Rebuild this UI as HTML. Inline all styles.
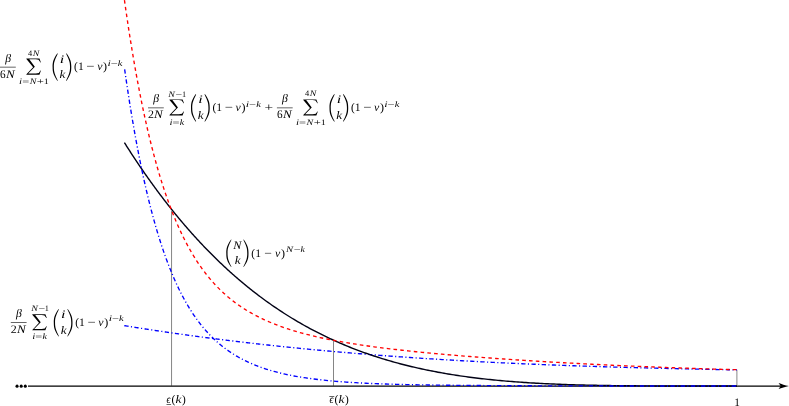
<!DOCTYPE html>
<html><head><meta charset="utf-8"><title>figure</title>
<style>html,body{margin:0;padding:0;background:#fff;overflow:hidden}
svg{display:block;will-change:transform;opacity:0.999} text{text-rendering:geometricPrecision;font-family:"Liberation Serif",serif;white-space:pre}</style></head>
<body><svg width="789" height="406" viewBox="0 0 789 406">
<rect width="789" height="406" fill="#fff"/>
<circle cx="17.05" cy="386.15" r="1.55" fill="#000"/><circle cx="21.2" cy="386.15" r="1.55" fill="#000"/><circle cx="25.3" cy="386.15" r="1.55" fill="#000"/>
<line x1="28" y1="386.1" x2="783" y2="386.1" stroke="#000" stroke-width="1.35"/>
<path d="M788.9 386 C784.8 385.1 781.6 384.1 778.6 382.9 L780.7 386 L778.6 389.1 C781.6 387.9 784.8 386.9 788.9 386Z" fill="#000"/>
<line x1="171.55" y1="211" x2="171.55" y2="386" stroke="#333" stroke-width="0.6"/>
<line x1="333.5" y1="340" x2="333.5" y2="386" stroke="#333" stroke-width="0.6"/>
<line x1="736.9" y1="369.8" x2="736.9" y2="386" stroke="#888" stroke-width="1.0"/>
<path d="M124.30 325.63 L124.80 325.71 L125.30 325.79 L125.80 325.87 L126.30 325.95 L126.80 326.04 L127.30 326.12 L127.80 326.20 L128.30 326.28 L128.80 326.36 L129.30 326.44 L129.80 326.52 L130.30 326.60 L130.80 326.68 L131.30 326.76 L131.80 326.84 L132.30 326.92 L132.80 327.00 L133.30 327.08 L133.80 327.16 L134.30 327.24 L134.80 327.32 L135.30 327.40 L135.80 327.48 L136.30 327.55 L136.80 327.63 L137.30 327.71 L137.80 327.79 L138.30 327.87 L138.80 327.95 L139.30 328.03 L139.80 328.11 L140.30 328.18 L140.80 328.26 L141.30 328.34 L141.80 328.42 L142.30 328.50 L142.80 328.57 L143.30 328.65 L143.80 328.73 L144.30 328.81 L144.80 328.88 L145.30 328.96 L145.80 329.04 L146.30 329.11 L146.80 329.19 L147.30 329.27 L147.80 329.34 L148.30 329.42 L148.80 329.50 L149.30 329.57 L149.80 329.65 L150.30 329.73 L150.80 329.80 L151.30 329.88 L151.80 329.95 L152.30 330.03 L152.80 330.11 L153.30 330.18 L153.80 330.26 L154.30 330.33 L154.80 330.41 L155.30 330.48 L155.80 330.56 L156.30 330.63 L156.80 330.71 L157.30 330.78 L157.80 330.86 L158.30 330.93 L158.80 331.01 L159.30 331.08 L159.80 331.16 L160.30 331.23 L160.80 331.30 L161.30 331.38 L161.80 331.45 L162.30 331.53 L162.80 331.60 L163.30 331.67 L163.80 331.75 L164.30 331.82 L164.80 331.89 L165.30 331.97 L165.80 332.04 L166.30 332.11 L166.80 332.19 L167.30 332.26 L167.80 332.33 L168.30 332.40 L168.80 332.48 L169.30 332.55 L169.80 332.62 L170.30 332.69 L170.80 332.77 L171.30 332.84 L171.80 332.91 L172.30 332.98 L172.80 333.05 L173.30 333.12 L173.80 333.20 L174.30 333.27 L174.80 333.34 L175.30 333.41 L175.80 333.48 L176.30 333.55 L176.80 333.62 L177.30 333.69 L177.80 333.77 L178.30 333.84 L178.80 333.91 L179.30 333.98 L179.80 334.05 L180.30 334.12 L180.80 334.19 L181.30 334.26 L181.80 334.33 L182.30 334.40 L182.80 334.47 L183.30 334.54 L183.80 334.61 L184.30 334.68 L184.80 334.75 L185.30 334.82 L185.80 334.89 L186.30 334.95 L186.80 335.02 L187.30 335.09 L187.80 335.16 L188.30 335.23 L188.80 335.30 L189.30 335.37 L189.80 335.44 L190.30 335.50 L190.80 335.57 L191.30 335.64 L191.80 335.71 L192.30 335.78 L192.80 335.85 L193.30 335.91 L193.80 335.98 L194.30 336.05 L194.80 336.12 L195.30 336.18 L195.80 336.25 L196.30 336.32 L196.80 336.39 L197.30 336.45 L197.80 336.52 L198.30 336.59 L198.80 336.65 L199.30 336.72 L199.80 336.79 L200.30 336.85 L200.80 336.92 L201.30 336.99 L201.80 337.05 L202.30 337.12 L202.80 337.18 L203.30 337.25 L203.80 337.32 L204.30 337.38 L204.80 337.45 L205.30 337.51 L205.80 337.58 L206.30 337.64 L206.80 337.71 L207.30 337.78 L207.80 337.84 L208.30 337.91 L208.80 337.97 L209.30 338.04 L209.80 338.10 L210.30 338.17 L210.80 338.23 L211.30 338.29 L211.80 338.36 L212.30 338.42 L212.80 338.49 L213.30 338.55 L213.80 338.62 L214.30 338.68 L214.80 338.74 L215.30 338.81 L215.80 338.87 L216.30 338.93 L216.80 339.00 L217.30 339.06 L217.80 339.13 L218.30 339.19 L218.80 339.25 L219.30 339.31 L219.80 339.38 L220.30 339.44 L220.80 339.50 L221.30 339.57 L221.80 339.63 L222.30 339.69 L222.80 339.75 L223.30 339.82 L223.80 339.88 L224.30 339.94 L224.80 340.00 L225.30 340.06 L225.80 340.13 L226.30 340.19 L226.80 340.25 L227.30 340.31 L227.80 340.37 L228.30 340.43 L228.80 340.50 L229.30 340.56 L229.80 340.62 L230.30 340.68 L230.80 340.74 L231.30 340.80 L231.80 340.86 L232.30 340.92 L232.80 340.98 L233.30 341.04 L233.80 341.11 L234.30 341.17 L234.80 341.23 L235.30 341.29 L235.80 341.35 L236.30 341.41 L236.80 341.47 L237.30 341.53 L237.80 341.59 L238.30 341.65 L238.80 341.71 L239.30 341.77 L239.80 341.82 L240.30 341.88 L240.80 341.94 L241.30 342.00 L241.80 342.06 L242.30 342.12 L242.80 342.18 L243.30 342.24 L243.80 342.30 L244.30 342.36 L244.80 342.41 L245.30 342.47 L245.80 342.53 L246.30 342.59 L246.80 342.65 L247.30 342.71 L247.80 342.76 L248.30 342.82 L248.80 342.88 L249.30 342.94 L249.80 343.00 L250.30 343.05 L250.80 343.11 L251.30 343.17 L251.80 343.23 L252.30 343.28 L252.80 343.34 L253.30 343.40 L253.80 343.45 L254.30 343.51 L254.80 343.57 L255.30 343.63 L255.80 343.68 L256.30 343.74 L256.80 343.80 L257.30 343.85 L257.80 343.91 L258.30 343.96 L258.80 344.02 L259.30 344.08 L259.80 344.13 L260.00 344.16 L262.00 344.38 L264.00 344.60 L266.00 344.82 L268.00 345.04 L270.00 345.26 L272.00 345.47 L274.00 345.69 L276.00 345.90 L278.00 346.12 L280.00 346.33 L282.00 346.54 L284.00 346.75 L286.00 346.95 L288.00 347.16 L290.00 347.37 L292.00 347.57 L294.00 347.77 L296.00 347.97 L298.00 348.17 L300.00 348.37 L302.00 348.57 L304.00 348.76 L306.00 348.96 L308.00 349.15 L310.00 349.35 L312.00 349.54 L314.00 349.73 L316.00 349.92 L318.00 350.10 L320.00 350.29 L322.00 350.47 L324.00 350.66 L326.00 350.84 L328.00 351.02 L330.00 351.20 L332.00 351.38 L334.00 351.56 L336.00 351.74 L338.00 351.91 L340.00 352.09 L342.00 352.26 L344.00 352.43 L346.00 352.60 L348.00 352.77 L350.00 352.94 L352.00 353.11 L354.00 353.28 L356.00 353.44 L358.00 353.61 L360.00 353.77 L362.00 353.93 L364.00 354.09 L366.00 354.25 L368.00 354.41 L370.00 354.57 L372.00 354.73 L374.00 354.88 L376.00 355.04 L378.00 355.19 L380.00 355.34 L382.00 355.49 L384.00 355.64 L386.00 355.79 L388.00 355.94 L390.00 356.09 L392.00 356.23 L394.00 356.38 L396.00 356.52 L398.00 356.66 L400.00 356.81 L402.00 356.95 L404.00 357.09 L406.00 357.23 L408.00 357.36 L410.00 357.50 L412.00 357.64 L414.00 357.77 L416.00 357.91 L418.00 358.04 L420.00 358.17 L422.00 358.30 L424.00 358.43 L426.00 358.56 L428.00 358.69 L430.00 358.82 L432.00 358.94 L434.00 359.07 L436.00 359.19 L438.00 359.31 L440.00 359.44 L442.00 359.56 L444.00 359.68 L446.00 359.80 L448.00 359.92 L450.00 360.04 L452.00 360.15 L454.00 360.27 L456.00 360.38 L458.00 360.50 L460.00 360.61 L462.00 360.72 L464.00 360.84 L466.00 360.95 L468.00 361.06 L470.00 361.17 L472.00 361.27 L474.00 361.38 L476.00 361.49 L478.00 361.59 L480.00 361.70 L482.00 361.80 L484.00 361.91 L486.00 362.01 L488.00 362.11 L490.00 362.21 L492.00 362.31 L494.00 362.41 L496.00 362.51 L498.00 362.60 L500.00 362.70 L502.00 362.80 L504.00 362.89 L506.00 362.99 L508.00 363.08 L510.00 363.17 L512.00 363.27 L514.00 363.36 L516.00 363.45 L518.00 363.54 L520.00 363.63 L522.00 363.72 L524.00 363.80 L526.00 363.89 L528.00 363.98 L530.00 364.06 L532.00 364.15 L534.00 364.23 L536.00 364.31 L538.00 364.40 L540.00 364.48 L542.00 364.56 L544.00 364.64 L546.00 364.72 L548.00 364.80 L550.00 364.88 L552.00 364.96 L554.00 365.03 L556.00 365.11 L558.00 365.19 L560.00 365.26 L562.00 365.34 L564.00 365.41 L566.00 365.48 L568.00 365.56 L570.00 365.63 L572.00 365.70 L574.00 365.77 L576.00 365.84 L578.00 365.91 L580.00 365.98 L582.00 366.05 L584.00 366.12 L586.00 366.18 L588.00 366.25 L590.00 366.32 L592.00 366.38 L594.00 366.45 L596.00 366.51 L598.00 366.57 L600.00 366.64 L602.00 366.70 L604.00 366.76 L606.00 366.82 L608.00 366.89 L610.00 366.95 L612.00 367.01 L614.00 367.07 L616.00 367.12 L618.00 367.18 L620.00 367.24 L622.00 367.30 L624.00 367.36 L626.00 367.41 L628.00 367.47 L630.00 367.52 L632.00 367.58 L634.00 367.63 L636.00 367.69 L638.00 367.74 L640.00 367.79 L642.00 367.85 L644.00 367.90 L646.00 367.95 L648.00 368.00 L650.00 368.05 L652.00 368.10 L654.00 368.15 L656.00 368.20 L658.00 368.25 L660.00 368.30 L662.00 368.35 L664.00 368.40 L666.00 368.44 L668.00 368.49 L670.00 368.54 L672.00 368.58 L674.00 368.63 L676.00 368.67 L678.00 368.72 L680.00 368.76 L682.00 368.81 L684.00 368.85 L686.00 368.90 L688.00 368.94 L690.00 368.98 L692.00 369.03 L694.00 369.07 L696.00 369.11 L698.00 369.15 L700.00 369.19 L702.00 369.23 L704.00 369.27 L706.00 369.31 L708.00 369.35 L710.00 369.39 L712.00 369.43 L714.00 369.47 L716.00 369.51 L718.00 369.55 L720.00 369.59 L722.00 369.63 L724.00 369.66 L726.00 369.70 L728.00 369.74 L730.00 369.78 L732.00 369.81 L734.00 369.85 L736.00 369.89 L737.00 369.90" fill="none" stroke="#0000ff" stroke-width="1.35" stroke-dasharray="4.3 2.41 1.11 2.41"/>
<path d="M124.40 142.60 L124.90 143.39 L125.40 144.19 L125.90 144.98 L126.40 145.76 L126.90 146.55 L127.40 147.33 L127.90 148.12 L128.40 148.90 L128.90 149.67 L129.40 150.45 L129.90 151.22 L130.40 152.00 L130.90 152.77 L131.40 153.54 L131.90 154.30 L132.40 155.07 L132.90 155.83 L133.40 156.59 L133.90 157.35 L134.40 158.11 L134.90 158.86 L135.40 159.62 L135.90 160.37 L136.40 161.12 L136.90 161.87 L137.40 162.61 L137.90 163.36 L138.40 164.10 L138.90 164.84 L139.40 165.58 L139.90 166.31 L140.40 167.05 L140.90 167.78 L141.40 168.51 L141.90 169.24 L142.40 169.97 L142.90 170.70 L143.40 171.42 L143.90 172.14 L144.40 172.86 L144.90 173.58 L145.40 174.30 L145.90 175.01 L146.40 175.73 L146.90 176.44 L147.40 177.15 L147.90 177.85 L148.40 178.56 L148.90 179.26 L149.40 179.97 L149.90 180.67 L150.40 181.36 L150.90 182.06 L151.40 182.76 L151.90 183.45 L152.40 184.14 L152.90 184.83 L153.40 185.52 L153.90 186.20 L154.40 186.89 L154.90 187.57 L155.40 188.25 L155.90 188.93 L156.40 189.61 L156.90 190.29 L157.40 190.96 L157.90 191.63 L158.40 192.30 L158.90 192.97 L159.40 193.64 L159.90 194.30 L160.40 194.97 L160.90 195.63 L161.40 196.29 L161.90 196.95 L162.40 197.60 L162.90 198.26 L163.40 198.91 L163.90 199.56 L164.40 200.21 L164.90 200.86 L165.40 201.51 L165.90 202.15 L166.40 202.79 L166.90 203.44 L167.40 204.07 L167.90 204.71 L168.40 205.35 L168.90 205.98 L169.40 206.62 L169.90 207.25 L170.40 207.88 L170.90 208.51 L171.40 209.13 L171.90 209.76 L172.40 210.38 L172.90 211.00 L173.40 211.62 L173.90 212.24 L174.40 212.85 L174.90 213.47 L175.40 214.08 L175.90 214.69 L176.40 215.30 L176.90 215.91 L177.40 216.52 L177.90 217.12 L178.40 217.73 L178.90 218.33 L179.40 218.93 L179.90 219.53 L180.40 220.12 L180.90 220.72 L181.40 221.31 L181.90 221.90 L182.40 222.49 L182.90 223.08 L183.40 223.67 L183.90 224.26 L184.40 224.84 L184.90 225.42 L185.40 226.00 L185.90 226.58 L186.40 227.16 L186.90 227.74 L187.40 228.31 L187.90 228.88 L188.40 229.46 L188.90 230.03 L189.40 230.59 L189.90 231.16 L190.40 231.73 L190.90 232.29 L191.40 232.85 L191.90 233.41 L192.40 233.97 L192.90 234.53 L193.40 235.09 L193.90 235.64 L194.40 236.19 L194.90 236.74 L195.40 237.29 L195.90 237.84 L196.40 238.39 L196.90 238.94 L197.40 239.48 L197.90 240.02 L198.40 240.56 L198.90 241.10 L199.40 241.64 L199.90 242.18 L200.40 242.71 L200.90 243.24 L201.40 243.78 L201.90 244.31 L202.40 244.83 L202.90 245.36 L203.40 245.89 L203.90 246.41 L204.40 246.94 L204.90 247.46 L205.40 247.98 L205.90 248.50 L206.40 249.01 L206.90 249.53 L207.40 250.04 L207.90 250.55 L208.40 251.07 L208.90 251.58 L209.40 252.08 L209.90 252.59 L210.40 253.10 L210.90 253.60 L211.40 254.10 L211.90 254.60 L212.40 255.10 L212.90 255.60 L213.40 256.10 L213.90 256.59 L214.40 257.09 L214.90 257.58 L215.40 258.07 L215.90 258.56 L216.40 259.05 L216.90 259.54 L217.40 260.02 L217.90 260.51 L218.40 260.99 L218.90 261.47 L219.40 261.95 L219.90 262.43 L220.40 262.91 L220.90 263.38 L221.40 263.86 L221.90 264.33 L222.40 264.80 L222.90 265.27 L223.40 265.74 L223.90 266.21 L224.40 266.68 L224.90 267.14 L225.40 267.60 L225.90 268.07 L226.40 268.53 L226.90 268.99 L227.40 269.45 L227.90 269.90 L228.40 270.36 L228.90 270.81 L229.40 271.26 L229.90 271.72 L230.40 272.17 L230.90 272.61 L231.40 273.06 L231.90 273.51 L232.40 273.95 L232.90 274.40 L233.40 274.84 L233.90 275.28 L234.40 275.72 L234.90 276.16 L235.40 276.59 L235.90 277.03 L236.40 277.46 L236.90 277.90 L237.40 278.33 L237.90 278.76 L238.40 279.19 L238.90 279.62 L239.40 280.04 L239.90 280.47 L240.40 280.89 L240.90 281.31 L241.40 281.74 L241.90 282.16 L242.40 282.57 L242.90 282.99 L243.40 283.41 L243.90 283.82 L244.40 284.24 L244.90 284.65 L245.40 285.06 L245.90 285.47 L246.40 285.88 L246.90 286.29 L247.40 286.69 L247.90 287.10 L248.40 287.50 L248.90 287.90 L249.40 288.31 L249.90 288.71 L250.40 289.11 L250.90 289.50 L251.40 289.90 L251.90 290.29 L252.40 290.69 L252.90 291.08 L253.40 291.47 L253.90 291.86 L254.40 292.25 L254.90 292.64 L255.40 293.03 L255.90 293.41 L256.40 293.80 L256.90 294.18 L257.40 294.56 L257.90 294.94 L258.40 295.32 L258.90 295.70 L259.40 296.08 L259.90 296.45 L260.00 296.53 L262.00 298.02 L264.00 299.49 L266.00 300.95 L268.00 302.38 L270.00 303.80 L272.00 305.20 L274.00 306.58 L276.00 307.94 L278.00 309.29 L280.00 310.62 L282.00 311.93 L284.00 313.22 L286.00 314.50 L288.00 315.76 L290.00 317.00 L292.00 318.23 L294.00 319.44 L296.00 320.63 L298.00 321.81 L300.00 322.97 L302.00 324.12 L304.00 325.25 L306.00 326.36 L308.00 327.46 L310.00 328.55 L312.00 329.61 L314.00 330.67 L316.00 331.71 L318.00 332.73 L320.00 333.74 L322.00 334.74 L324.00 335.72 L326.00 336.68 L328.00 337.64 L330.00 338.58 L332.00 339.50 L334.00 340.41 L336.00 341.31 L338.00 342.20 L340.00 343.07 L342.00 343.93 L344.00 344.77 L346.00 345.61 L348.00 346.43 L350.00 347.23 L352.00 348.03 L354.00 348.81 L356.00 349.58 L358.00 350.34 L360.00 351.09 L362.00 351.82 L364.00 352.55 L366.00 353.26 L368.00 353.96 L370.00 354.65 L372.00 355.33 L374.00 355.99 L376.00 356.65 L378.00 357.29 L380.00 357.93 L382.00 358.55 L384.00 359.16 L386.00 359.77 L388.00 360.36 L390.00 360.94 L392.00 361.52 L394.00 362.08 L396.00 362.63 L398.00 363.17 L400.00 363.71 L402.00 364.23 L404.00 364.75 L406.00 365.25 L408.00 365.75 L410.00 366.24 L412.00 366.72 L414.00 367.19 L416.00 367.65 L418.00 368.10 L420.00 368.55 L422.00 368.98 L424.00 369.41 L426.00 369.83 L428.00 370.24 L430.00 370.65 L432.00 371.04 L434.00 371.43 L436.00 371.81 L438.00 372.19 L440.00 372.55 L442.00 372.91 L444.00 373.26 L446.00 373.61 L448.00 373.94 L450.00 374.27 L452.00 374.60 L454.00 374.91 L456.00 375.22 L458.00 375.53 L460.00 375.83 L462.00 376.12 L464.00 376.40 L466.00 376.68 L468.00 376.95 L470.00 377.22 L472.00 377.48 L474.00 377.73 L476.00 377.98 L478.00 378.22 L480.00 378.46 L482.00 378.69 L484.00 378.92 L486.00 379.14 L488.00 379.36 L490.00 379.57 L492.00 379.77 L494.00 379.97 L496.00 380.17 L498.00 380.36 L500.00 380.55 L502.00 380.73 L504.00 380.91 L506.00 381.08 L508.00 381.25 L510.00 381.41 L512.00 381.57 L514.00 381.73 L516.00 381.88 L518.00 382.02 L520.00 382.17 L522.00 382.31 L524.00 382.44 L526.00 382.57 L528.00 382.70 L530.00 382.83 L532.00 382.95 L534.00 383.07 L536.00 383.18 L538.00 383.29 L540.00 383.40 L542.00 383.50 L544.00 383.60 L546.00 383.70 L548.00 383.79 L550.00 383.89 L552.00 383.98 L554.00 384.06 L556.00 384.15 L558.00 384.23 L560.00 384.30 L562.00 384.38 L564.00 384.45 L566.00 384.52 L568.00 384.59 L570.00 384.66 L572.00 384.72 L574.00 384.78 L576.00 384.84 L578.00 384.90 L580.00 384.95 L582.00 385.00 L584.00 385.05 L586.00 385.10 L588.00 385.15 L590.00 385.19 L592.00 385.24 L594.00 385.28 L596.00 385.32 L598.00 385.35 L600.00 385.39 L602.00 385.43 L604.00 385.46 L606.00 385.49 L608.00 385.52 L610.00 385.55 L612.00 385.58 L614.00 385.60 L616.00 385.63 L618.00 385.65 L620.00 385.68 L622.00 385.70 L624.00 385.72 L626.00 385.74 L628.00 385.76 L630.00 385.77 L632.00 385.79 L634.00 385.81 L636.00 385.82 L638.00 385.83 L640.00 385.85 L642.00 385.86 L644.00 385.87 L646.00 385.88 L648.00 385.89 L650.00 385.90 L652.00 385.91 L654.00 385.92 L656.00 385.93 L658.00 385.93 L660.00 385.94 L662.00 385.95 L664.00 385.95 L666.00 385.96 L668.00 385.96 L670.00 385.97 L672.00 385.97 L674.00 385.97 L676.00 385.98 L678.00 385.98 L680.00 385.98 L682.00 385.98 L684.00 385.99 L686.00 385.99 L688.00 385.99 L690.00 385.99 L692.00 385.99 L694.00 385.99 L696.00 386.00 L698.00 386.00 L700.00 386.00 L702.00 386.00 L704.00 386.00 L706.00 386.00 L708.00 386.00 L710.00 386.00 L712.00 386.00 L714.00 386.00 L716.00 386.00 L718.00 386.00 L720.00 386.00 L722.00 386.00 L724.00 386.00 L726.00 386.00 L728.00 386.00 L730.00 386.00 L732.00 386.00 L734.00 386.00 L736.00 386.00 L737.00 386.00" fill="none" stroke="#000014" stroke-width="1.4"/>
<path d="M124.65 69.36 L125.15 72.88 L125.65 76.35 L126.15 79.79 L126.65 83.19 L127.15 86.54 L127.65 89.86 L128.15 93.15 L128.65 96.39 L129.15 99.60 L129.65 102.77 L130.15 105.90 L130.65 109.00 L131.15 112.06 L131.65 115.09 L132.15 118.08 L132.65 121.04 L133.15 123.97 L133.65 126.86 L134.15 129.72 L134.65 132.54 L135.15 135.34 L135.65 138.10 L136.15 140.83 L136.65 143.53 L137.15 146.19 L137.65 148.83 L138.15 151.44 L138.65 154.02 L139.15 156.57 L139.65 159.09 L140.15 161.58 L140.65 164.04 L141.15 166.47 L141.65 168.88 L142.15 171.26 L142.65 173.61 L143.15 175.93 L143.65 178.23 L144.15 180.51 L144.65 182.75 L145.15 184.97 L145.65 187.17 L146.15 189.34 L146.65 191.48 L147.15 193.61 L147.65 195.70 L148.15 197.78 L148.65 199.83 L149.15 201.85 L149.65 203.86 L150.15 205.84 L150.65 207.80 L151.15 209.73 L151.65 211.65 L152.15 213.54 L152.65 215.41 L153.15 217.26 L153.65 219.09 L154.15 220.89 L154.65 222.68 L155.15 224.45 L155.65 226.19 L156.15 227.92 L156.65 229.63 L157.15 231.32 L157.65 232.99 L158.15 234.64 L158.65 236.27 L159.15 237.88 L159.65 239.48 L160.15 241.05 L160.65 242.61 L161.15 244.15 L161.65 245.68 L162.15 247.18 L162.65 248.67 L163.15 250.15 L163.65 251.60 L164.15 253.04 L164.65 254.47 L165.15 255.88 L165.65 257.27 L166.15 258.64 L166.65 260.00 L167.15 261.35 L167.65 262.68 L168.15 263.99 L168.65 265.29 L169.15 266.58 L169.65 267.85 L170.15 269.11 L170.65 270.35 L171.15 271.58 L171.65 272.80 L172.15 274.00 L172.65 275.19 L173.15 276.36 L173.65 277.52 L174.15 278.67 L174.65 279.81 L175.15 280.93 L175.65 282.04 L176.15 283.14 L176.65 284.23 L177.15 285.30 L177.65 286.36 L178.15 287.41 L178.65 288.45 L179.15 289.48 L179.65 290.49 L180.15 291.50 L180.65 292.49 L181.15 293.47 L181.65 294.44 L182.15 295.40 L182.65 296.35 L183.15 297.29 L183.65 298.22 L184.15 299.14 L184.65 300.04 L185.15 300.94 L185.65 301.83 L186.15 302.71 L186.65 303.58 L187.15 304.43 L187.65 305.28 L188.15 306.12 L188.65 306.95 L189.15 307.78 L189.65 308.59 L190.15 309.39 L190.65 310.19 L191.15 310.97 L191.65 311.75 L192.15 312.52 L192.65 313.28 L193.15 314.03 L193.65 314.77 L194.15 315.51 L194.65 316.24 L195.15 316.96 L195.65 317.67 L196.15 318.37 L196.65 319.07 L197.15 319.76 L197.65 320.44 L198.15 321.11 L198.65 321.78 L199.15 322.44 L199.65 323.09 L200.15 323.73 L200.65 324.37 L201.15 325.00 L201.65 325.62 L202.15 326.24 L202.65 326.85 L203.15 327.45 L203.65 328.05 L204.15 328.64 L204.65 329.23 L205.15 329.80 L205.65 330.38 L206.15 330.94 L206.65 331.50 L207.15 332.05 L207.65 332.60 L208.15 333.14 L208.65 333.68 L209.15 334.21 L209.65 334.73 L210.15 335.25 L210.65 335.76 L211.15 336.27 L211.65 336.77 L212.15 337.27 L212.65 337.76 L213.15 338.25 L213.65 338.73 L214.15 339.20 L214.65 339.67 L215.15 340.14 L215.65 340.60 L216.15 341.05 L216.65 341.50 L217.15 341.95 L217.65 342.39 L218.15 342.83 L218.65 343.26 L219.15 343.69 L219.65 344.11 L220.15 344.53 L220.65 344.94 L221.15 345.35 L221.65 345.76 L222.15 346.16 L222.65 346.55 L223.15 346.95 L223.65 347.33 L224.15 347.72 L224.65 348.10 L225.15 348.47 L225.65 348.85 L226.15 349.21 L226.65 349.58 L227.15 349.94 L227.65 350.29 L228.15 350.65 L228.65 351.00 L229.15 351.34 L229.65 351.68 L230.15 352.02 L230.65 352.36 L231.15 352.69 L231.65 353.02 L232.15 353.34 L232.65 353.66 L233.15 353.98 L233.65 354.29 L234.15 354.60 L234.65 354.91 L235.15 355.22 L235.65 355.52 L236.15 355.82 L236.65 356.11 L237.15 356.40 L237.65 356.69 L238.15 356.98 L238.65 357.26 L239.15 357.54 L239.65 357.82 L240.15 358.09 L240.65 358.36 L241.15 358.63 L241.65 358.90 L242.15 359.16 L242.65 359.42 L243.15 359.68 L243.65 359.94 L244.15 360.19 L244.65 360.44 L245.15 360.69 L245.65 360.93 L246.15 361.17 L246.65 361.41 L247.15 361.65 L247.65 361.89 L248.15 362.12 L248.65 362.35 L249.15 362.58 L249.65 362.80 L250.15 363.02 L250.65 363.25 L251.15 363.46 L251.65 363.68 L252.15 363.90 L252.65 364.11 L253.15 364.32 L253.65 364.53 L254.15 364.73 L254.65 364.93 L255.15 365.14 L255.65 365.34 L256.15 365.53 L256.65 365.73 L257.15 365.92 L257.65 366.11 L258.15 366.30 L258.65 366.49 L259.15 366.68 L259.65 366.86 L260.00 366.99 L262.00 367.70 L264.00 368.39 L266.00 369.04 L268.00 369.68 L270.00 370.28 L272.00 370.87 L274.00 371.43 L276.00 371.97 L278.00 372.48 L280.00 372.98 L282.00 373.46 L284.00 373.92 L286.00 374.36 L288.00 374.79 L290.00 375.20 L292.00 375.59 L294.00 375.97 L296.00 376.33 L298.00 376.68 L300.00 377.02 L302.00 377.34 L304.00 377.65 L306.00 377.95 L308.00 378.24 L310.00 378.52 L312.00 378.79 L314.00 379.04 L316.00 379.29 L318.00 379.53 L320.00 379.76 L322.00 379.98 L324.00 380.19 L326.00 380.40 L328.00 380.60 L330.00 380.79 L332.00 380.97 L334.00 381.14 L336.00 381.31 L338.00 381.48 L340.00 381.63 L342.00 381.78 L344.00 381.93 L346.00 382.07 L348.00 382.21 L350.00 382.34 L352.00 382.46 L354.00 382.58 L356.00 382.70 L358.00 382.81 L360.00 382.92 L362.00 383.02 L364.00 383.12 L366.00 383.22 L368.00 383.31 L370.00 383.40 L372.00 383.49 L374.00 383.57 L376.00 383.65 L378.00 383.73 L380.00 383.80 L382.00 383.88 L384.00 383.95 L386.00 384.01 L388.00 384.08 L390.00 384.14 L392.00 384.20 L394.00 384.26 L396.00 384.31 L398.00 384.37 L400.00 384.42 L402.00 384.47 L404.00 384.52 L406.00 384.56 L408.00 384.61 L410.00 384.65 L412.00 384.69 L414.00 384.73 L416.00 384.77 L418.00 384.81 L420.00 384.85 L422.00 384.88 L424.00 384.92 L426.00 384.95 L428.00 384.98 L430.00 385.01 L432.00 385.04 L434.00 385.07 L436.00 385.10 L438.00 385.12 L440.00 385.15 L442.00 385.18 L444.00 385.20 L446.00 385.22 L448.00 385.25 L450.00 385.27 L452.00 385.29 L454.00 385.31 L456.00 385.33 L458.00 385.35 L460.00 385.37 L462.00 385.39 L464.00 385.40 L466.00 385.42 L468.00 385.44 L470.00 385.45 L472.00 385.47 L474.00 385.48 L476.00 385.50 L478.00 385.51 L480.00 385.53 L482.00 385.54 L484.00 385.55 L486.00 385.57 L488.00 385.58 L490.00 385.59 L492.00 385.60 L494.00 385.61 L496.00 385.63 L498.00 385.64 L500.00 385.65 L502.00 385.66 L504.00 385.67 L506.00 385.68 L508.00 385.69 L510.00 385.70 L512.00 385.70 L514.00 385.71 L516.00 385.72 L518.00 385.73 L520.00 385.74 L522.00 385.75 L524.00 385.75 L526.00 385.76 L528.00 385.77 L530.00 385.78 L532.00 385.78 L534.00 385.79 L536.00 385.80 L538.00 385.80 L540.00 385.81 L542.00 385.81 L544.00 385.82 L546.00 385.83 L548.00 385.83 L550.00 385.84 L552.00 385.84 L554.00 385.85 L556.00 385.85 L558.00 385.86 L560.00 385.86 L562.00 385.87 L564.00 385.87 L566.00 385.88 L568.00 385.88 L570.00 385.89 L572.00 385.89 L574.00 385.89 L576.00 385.90 L578.00 385.90 L580.00 385.90 L582.00 385.91 L584.00 385.91 L586.00 385.92 L588.00 385.92 L590.00 385.92 L592.00 385.93 L594.00 385.93 L596.00 385.93 L598.00 385.93 L600.00 385.94 L602.00 385.94 L604.00 385.94 L606.00 385.95 L608.00 385.95 L610.00 385.95 L612.00 385.95 L614.00 385.95 L616.00 385.96 L618.00 385.96 L620.00 385.96 L622.00 385.96 L624.00 385.96 L626.00 385.97 L628.00 385.97 L630.00 385.97 L632.00 385.97 L634.00 385.97 L636.00 385.97 L638.00 385.98 L640.00 385.98 L642.00 385.98 L644.00 385.98 L646.00 385.98 L648.00 385.98 L650.00 385.98 L652.00 385.99 L654.00 385.99 L656.00 385.99 L658.00 385.99 L660.00 385.99 L662.00 385.99 L664.00 385.99 L666.00 385.99 L668.00 385.99 L670.00 385.99 L672.00 385.99 L674.00 385.99 L676.00 385.99 L678.00 385.99 L680.00 386.00 L682.00 386.00 L684.00 386.00 L686.00 386.00 L688.00 386.00 L690.00 386.00 L692.00 386.00 L694.00 386.00 L696.00 386.00 L698.00 386.00 L700.00 386.00 L702.00 386.00 L704.00 386.00 L706.00 386.00 L708.00 386.00 L710.00 386.00 L712.00 386.00 L714.00 386.00 L716.00 386.00 L718.00 386.00 L720.00 386.00 L722.00 386.00 L724.00 386.00 L726.00 386.00 L728.00 386.00 L730.00 386.00 L732.00 386.00 L734.00 386.00 L736.00 386.00 L737.00 386.00" fill="none" stroke="#0000ff" stroke-width="1.35" stroke-dasharray="4.3 2.4 1.1 2.4"/>
<path d="M121.00 -25.37 L121.50 -21.55 L122.00 -17.77 L122.50 -14.03 L123.00 -10.33 L123.50 -6.68 L124.00 -3.06 L124.50 0.52 L125.00 4.06 L125.50 7.56 L126.00 11.03 L126.50 14.45 L127.00 17.84 L127.50 21.19 L128.00 24.50 L128.50 27.78 L129.00 31.03 L129.50 34.23 L130.00 37.41 L130.50 40.55 L131.00 43.65 L131.50 46.72 L132.00 49.76 L132.50 52.76 L133.00 55.73 L133.50 58.67 L134.00 61.58 L134.50 64.46 L135.00 67.30 L135.50 70.12 L136.00 72.90 L136.50 75.65 L137.00 78.38 L137.50 81.07 L138.00 83.74 L138.50 86.37 L139.00 88.98 L139.50 91.56 L140.00 94.11 L140.50 96.63 L141.00 99.13 L141.50 101.60 L142.00 104.04 L142.50 106.46 L143.00 108.85 L143.50 111.21 L144.00 113.55 L144.50 115.87 L145.00 118.15 L145.50 120.42 L146.00 122.66 L146.50 124.87 L147.00 127.07 L147.50 129.23 L148.00 131.38 L148.50 133.50 L149.00 135.60 L149.50 137.68 L150.00 139.73 L150.50 141.76 L151.00 143.77 L151.50 145.76 L152.00 147.73 L152.50 149.68 L153.00 151.60 L153.50 153.51 L154.00 155.39 L154.50 157.25 L155.00 159.10 L155.50 160.92 L156.00 162.73 L156.50 164.52 L157.00 166.28 L157.50 168.03 L158.00 169.76 L158.50 171.47 L159.00 173.16 L159.50 174.84 L160.00 176.50 L160.50 178.14 L161.00 179.76 L161.50 181.36 L162.00 182.95 L162.50 184.52 L163.00 186.08 L163.50 187.61 L164.00 189.13 L164.50 190.64 L165.00 192.13 L165.50 193.60 L166.00 195.06 L166.50 196.51 L167.00 197.93 L167.50 199.35 L168.00 200.74 L168.50 202.13 L169.00 203.50 L169.50 204.85 L170.00 206.19 L170.50 207.52 L171.00 208.83 L171.50 210.13 L172.00 211.41 L172.50 212.68 L173.00 213.94 L173.50 215.19 L174.00 216.42 L174.50 217.64 L175.00 218.84 L175.50 220.04 L176.00 221.22 L176.50 222.39 L177.00 223.54 L177.50 224.69 L178.00 225.82 L178.50 226.94 L179.00 228.05 L179.50 229.15 L180.00 230.24 L180.50 231.32 L181.00 232.38 L181.50 233.44 L182.00 234.48 L182.50 235.51 L183.00 236.53 L183.50 237.54 L184.00 238.54 L184.50 239.54 L185.00 240.52 L185.50 241.49 L186.00 242.45 L186.50 243.40 L187.00 244.34 L187.50 245.27 L188.00 246.19 L188.50 247.11 L189.00 248.01 L189.50 248.90 L190.00 249.79 L190.50 250.66 L191.00 251.53 L191.50 252.39 L192.00 253.24 L192.50 254.08 L193.00 254.92 L193.50 255.74 L194.00 256.56 L194.50 257.37 L195.00 258.17 L195.50 258.96 L196.00 259.74 L196.50 260.52 L197.00 261.29 L197.50 262.05 L198.00 262.80 L198.50 263.55 L199.00 264.29 L199.50 265.02 L200.00 265.74 L200.50 266.46 L201.00 267.17 L201.50 267.87 L202.00 268.57 L202.50 269.26 L203.00 269.94 L203.50 270.62 L204.00 271.29 L204.50 271.95 L205.00 272.61 L205.50 273.26 L206.00 273.90 L206.50 274.54 L207.00 275.17 L207.50 275.79 L208.00 276.41 L208.50 277.03 L209.00 277.63 L209.50 278.23 L210.00 278.83 L210.50 279.42 L211.00 280.00 L211.50 280.58 L212.00 281.16 L212.50 281.72 L213.00 282.29 L213.50 282.84 L214.00 283.39 L214.50 283.94 L215.00 284.48 L215.50 285.02 L216.00 285.55 L216.50 286.07 L217.00 286.60 L217.50 287.11 L218.00 287.62 L218.50 288.13 L219.00 288.63 L219.50 289.13 L220.00 289.62 L220.50 290.11 L221.00 290.59 L221.50 291.07 L222.00 291.55 L222.50 292.02 L223.00 292.48 L223.50 292.94 L224.00 293.40 L224.50 293.86 L225.00 294.30 L225.50 294.75 L226.00 295.19 L226.50 295.63 L227.00 296.06 L227.50 296.49 L228.00 296.91 L228.50 297.34 L229.00 297.75 L229.50 298.17 L230.00 298.58 L230.50 298.98 L231.00 299.39 L231.50 299.79 L232.00 300.18 L232.50 300.57 L233.00 300.96 L233.50 301.35 L234.00 301.73 L234.50 302.11 L235.00 302.48 L235.50 302.85 L236.00 303.22 L236.50 303.59 L237.00 303.95 L237.50 304.31 L238.00 304.66 L238.50 305.02 L239.00 305.37 L239.50 305.71 L240.00 306.06 L240.50 306.40 L241.00 306.74 L241.50 307.07 L242.00 307.40 L242.50 307.73 L243.00 308.06 L243.50 308.38 L244.00 308.70 L244.50 309.02 L245.00 309.34 L245.50 309.65 L246.00 309.96 L246.50 310.27 L247.00 310.57 L247.50 310.88 L248.00 311.18 L248.50 311.47 L249.00 311.77 L249.50 312.06 L250.00 312.35 L250.50 312.64 L251.00 312.93 L251.50 313.21 L252.00 313.49 L252.50 313.77 L253.00 314.05 L253.50 314.32 L254.00 314.59 L254.50 314.86 L255.00 315.13 L255.50 315.39 L256.00 315.66 L256.50 315.92 L257.00 316.18 L257.50 316.43 L258.00 316.69 L258.50 316.94 L259.00 317.19 L259.50 317.44 L260.00 317.69 L262.00 318.66 L264.00 319.60 L266.00 320.51 L268.00 321.39 L270.00 322.25 L272.00 323.08 L274.00 323.89 L276.00 324.67 L278.00 325.44 L280.00 326.18 L282.00 326.90 L284.00 327.60 L286.00 328.28 L288.00 328.94 L290.00 329.59 L292.00 330.21 L294.00 330.83 L296.00 331.42 L298.00 332.00 L300.00 332.57 L302.00 333.12 L304.00 333.66 L306.00 334.19 L308.00 334.70 L310.00 335.20 L312.00 335.69 L314.00 336.17 L316.00 336.64 L318.00 337.10 L320.00 337.54 L322.00 337.98 L324.00 338.41 L326.00 338.83 L328.00 339.24 L330.00 339.64 L332.00 340.03 L334.00 340.42 L336.00 340.80 L338.00 341.17 L340.00 341.53 L342.00 341.89 L344.00 342.24 L346.00 342.58 L348.00 342.92 L350.00 343.25 L352.00 343.57 L354.00 343.89 L356.00 344.20 L358.00 344.51 L360.00 344.82 L362.00 345.11 L364.00 345.41 L366.00 345.70 L368.00 345.98 L370.00 346.26 L372.00 346.53 L374.00 346.80 L376.00 347.07 L378.00 347.33 L380.00 347.59 L382.00 347.85 L384.00 348.10 L386.00 348.35 L388.00 348.59 L390.00 348.83 L392.00 349.07 L394.00 349.31 L396.00 349.54 L398.00 349.77 L400.00 349.99 L402.00 350.22 L404.00 350.44 L406.00 350.66 L408.00 350.87 L410.00 351.08 L412.00 351.29 L414.00 351.50 L416.00 351.71 L418.00 351.91 L420.00 352.11 L422.00 352.31 L424.00 352.50 L426.00 352.70 L428.00 352.89 L430.00 353.08 L432.00 353.27 L434.00 353.46 L436.00 353.64 L438.00 353.82 L440.00 354.00 L442.00 354.18 L444.00 354.36 L446.00 354.54 L448.00 354.71 L450.00 354.88 L452.00 355.05 L454.00 355.22 L456.00 355.39 L458.00 355.56 L460.00 355.72 L462.00 355.89 L464.00 356.05 L466.00 356.21 L468.00 356.37 L470.00 356.53 L472.00 356.68 L474.00 356.84 L476.00 356.99 L478.00 357.15 L480.00 357.30 L482.00 357.45 L484.00 357.60 L486.00 357.75 L488.00 357.89 L490.00 358.04 L492.00 358.18 L494.00 358.33 L496.00 358.47 L498.00 358.61 L500.00 358.75 L502.00 358.89 L504.00 359.03 L506.00 359.17 L508.00 359.30 L510.00 359.44 L512.00 359.57 L514.00 359.71 L516.00 359.84 L518.00 359.97 L520.00 360.10 L522.00 360.23 L524.00 360.36 L526.00 360.49 L528.00 360.62 L530.00 360.74 L532.00 360.87 L534.00 360.99 L536.00 361.12 L538.00 361.24 L540.00 361.36 L542.00 361.48 L544.00 361.60 L546.00 361.72 L548.00 361.84 L550.00 361.96 L552.00 362.07 L554.00 362.19 L556.00 362.30 L558.00 362.42 L560.00 362.53 L562.00 362.65 L564.00 362.76 L566.00 362.87 L568.00 362.98 L570.00 363.09 L572.00 363.20 L574.00 363.31 L576.00 363.41 L578.00 363.52 L580.00 363.63 L582.00 363.73 L584.00 363.83 L586.00 363.94 L588.00 364.04 L590.00 364.14 L592.00 364.24 L594.00 364.35 L596.00 364.44 L598.00 364.54 L600.00 364.64 L602.00 364.74 L604.00 364.84 L606.00 364.93 L608.00 365.03 L610.00 365.12 L612.00 365.22 L614.00 365.31 L616.00 365.40 L618.00 365.50 L620.00 365.59 L622.00 365.68 L624.00 365.77 L626.00 365.86 L628.00 365.94 L630.00 366.03 L632.00 366.12 L634.00 366.20 L636.00 366.29 L638.00 366.37 L640.00 366.46 L642.00 366.54 L644.00 366.62 L646.00 366.71 L648.00 366.79 L650.00 366.87 L652.00 366.95 L654.00 367.03 L656.00 367.11 L658.00 367.18 L660.00 367.26 L662.00 367.34 L664.00 367.41 L666.00 367.49 L668.00 367.56 L670.00 367.64 L672.00 367.71 L674.00 367.78 L676.00 367.85 L678.00 367.92 L680.00 367.99 L682.00 368.06 L684.00 368.13 L686.00 368.20 L688.00 368.27 L690.00 368.33 L692.00 368.40 L694.00 368.47 L696.00 368.53 L698.00 368.59 L700.00 368.66 L702.00 368.72 L704.00 368.78 L706.00 368.84 L708.00 368.90 L710.00 368.96 L712.00 369.02 L714.00 369.08 L716.00 369.14 L718.00 369.20 L720.00 369.25 L722.00 369.31 L724.00 369.36 L726.00 369.42 L728.00 369.47 L730.00 369.53 L732.00 369.58 L734.00 369.63 L736.00 369.68 L737.00 369.71" fill="none" stroke="#ff0000" stroke-width="1.35" stroke-dasharray="3.6 3.2" stroke-dashoffset="1.5"/>
<rect x="0.00" y="66.80" width="15.8" height="0.6" fill="#000"/>
<text transform="translate(5.19,61.60) scale(1.018,1)" font-size="11.5" style="font-style:italic;" fill="#000">β</text>
<text transform="translate(0.02,77.50) scale(0.977,1)" font-size="11.5" style="" fill="#000">6</text>
<text transform="translate(6.10,77.50) scale(1.134,1)" font-size="11.5" style="font-style:italic;" fill="#000">N</text>
<path d="M26.40 58.60 L39.47 58.60 L40.92 62.38 L40.46 62.38 L38.56 59.81 L35.82 59.32 L29.29 59.32 L34.84 66.65 L28.22 73.49 L35.82 73.49 L38.86 72.93 L40.46 70.59 L40.92 70.59 L39.47 74.70 L26.40 74.70 L26.40 74.30 L33.09 67.21 L26.40 59.08Z" fill="#000"/>
<text transform="translate(28.04,55.60) scale(0.999,1)" font-size="8.4" style="" fill="#000">4</text>
<text transform="translate(32.87,55.60) scale(1.173,1)" font-size="8.4" style="font-style:italic;" fill="#000">N</text>
<text transform="translate(19.09,83.80) scale(1.303,1)" font-size="8.4" style="font-style:italic;" fill="#000">i</text>
<text transform="translate(22.18,83.80) scale(1.484,1)" font-size="8.4" style="" fill="#000">=</text>
<text transform="translate(29.67,83.80) scale(1.189,1)" font-size="8.4" style="font-style:italic;" fill="#000">N</text>
<text transform="translate(36.77,83.80) scale(1.509,1)" font-size="8.4" style="" fill="#000">+</text>
<text transform="translate(43.73,83.80) scale(1.184,1)" font-size="8.4" style="" fill="#000">1</text>
<path d="M57.40 53.30 C53.20 59.30 52.60 62.10 52.60 67.10 C52.60 72.10 53.20 74.90 57.40 80.90 L57.75 80.55 C54.75 74.40 53.85 72.10 53.85 67.10 C53.85 62.10 54.75 59.80 57.75 53.65Z" fill="#000"/>
<path d="M66.50 53.30 C70.70 59.30 71.30 62.10 71.30 67.10 C71.30 72.10 70.70 74.90 66.50 80.90 L66.15 80.55 C69.15 74.40 70.05 72.10 70.05 67.10 C70.05 62.10 69.15 59.80 66.15 53.65Z" fill="#000"/>
<text transform="translate(59.85,62.60) scale(1.405,1)" font-size="11.5" style="font-style:italic;" fill="#000">i</text>
<text transform="translate(59.47,78.00) scale(1.154,1)" font-size="11.5" style="font-style:italic;" fill="#000">k</text>
<text transform="translate(74.00,70.30) scale(0.982,1)" font-size="11.5" style="" fill="#000">(</text>
<text transform="translate(77.88,70.30) scale(1.013,1)" font-size="11.5" style="" fill="#000">1</text>
<text transform="translate(86.37,70.30) scale(1.271,1)" font-size="11.5" style="" fill="#000">−</text>
<text transform="translate(97.14,70.30) scale(1.031,1)" font-size="11.5" style="font-style:italic;" fill="#000">v</text>
<text transform="translate(103.01,70.30) scale(1.050,1)" font-size="11.5" style="" fill="#000">)</text>
<text transform="translate(107.43,65.80) scale(1.427,1)" font-size="8.4" style="font-style:italic;" fill="#000">i</text>
<text transform="translate(110.68,65.80) scale(1.484,1)" font-size="8.4" style="" fill="#000">−</text>
<text transform="translate(117.80,65.80) scale(1.247,1)" font-size="8.4" style="font-style:italic;" fill="#000">k</text>
<rect x="148.00" y="107.60" width="15.8" height="0.6" fill="#000"/>
<text transform="translate(153.19,102.40) scale(1.018,1)" font-size="11.5" style="font-style:italic;" fill="#000">β</text>
<text transform="translate(147.97,118.30) scale(1.041,1)" font-size="11.5" style="" fill="#000">2</text>
<text transform="translate(154.10,118.30) scale(1.134,1)" font-size="11.5" style="font-style:italic;" fill="#000">N</text>
<path d="M169.50 99.40 L182.57 99.40 L184.02 103.18 L183.56 103.18 L181.66 100.61 L178.92 100.12 L172.39 100.12 L177.94 107.45 L171.32 114.29 L178.92 114.29 L181.96 113.73 L183.56 111.39 L184.02 111.39 L182.57 115.50 L169.50 115.50 L169.50 115.10 L176.19 108.01 L169.50 99.88Z" fill="#000"/>
<text transform="translate(168.37,96.50) scale(1.189,1)" font-size="8.4" style="font-style:italic;" fill="#000">N</text>
<text transform="translate(175.61,96.50) scale(1.407,1)" font-size="8.4" style="" fill="#000">−</text>
<text transform="translate(181.98,96.50) scale(0.981,1)" font-size="8.4" style="" fill="#000">1</text>
<text transform="translate(169.39,124.60) scale(1.303,1)" font-size="8.4" style="font-style:italic;" fill="#000">i</text>
<text transform="translate(172.48,124.60) scale(1.484,1)" font-size="8.4" style="" fill="#000">=</text>
<text transform="translate(179.71,124.60) scale(1.191,1)" font-size="8.4" style="font-style:italic;" fill="#000">k</text>
<path d="M195.80 94.10 C191.60 100.10 191.00 102.90 191.00 107.90 C191.00 112.90 191.60 115.70 195.80 121.70 L196.15 121.35 C193.15 115.20 192.25 112.90 192.25 107.90 C192.25 102.90 193.15 100.60 196.15 94.45Z" fill="#000"/>
<path d="M204.90 94.10 C209.10 100.10 209.70 102.90 209.70 107.90 C209.70 112.90 209.10 115.70 204.90 121.70 L204.55 121.35 C207.55 115.20 208.45 112.90 208.45 107.90 C208.45 102.90 207.55 100.60 204.55 94.45Z" fill="#000"/>
<text transform="translate(198.25,103.40) scale(1.405,1)" font-size="11.5" style="font-style:italic;" fill="#000">i</text>
<text transform="translate(197.87,118.80) scale(1.154,1)" font-size="11.5" style="font-style:italic;" fill="#000">k</text>
<text transform="translate(212.40,111.10) scale(0.982,1)" font-size="11.5" style="" fill="#000">(</text>
<text transform="translate(216.28,111.10) scale(1.013,1)" font-size="11.5" style="" fill="#000">1</text>
<text transform="translate(224.77,111.10) scale(1.271,1)" font-size="11.5" style="" fill="#000">−</text>
<text transform="translate(235.54,111.10) scale(1.031,1)" font-size="11.5" style="font-style:italic;" fill="#000">v</text>
<text transform="translate(241.41,111.10) scale(1.050,1)" font-size="11.5" style="" fill="#000">)</text>
<text transform="translate(245.83,106.60) scale(1.427,1)" font-size="8.4" style="font-style:italic;" fill="#000">i</text>
<text transform="translate(249.08,106.60) scale(1.484,1)" font-size="8.4" style="" fill="#000">−</text>
<text transform="translate(256.20,106.60) scale(1.247,1)" font-size="8.4" style="font-style:italic;" fill="#000">k</text>
<text transform="translate(264.54,111.10) scale(1.327,1)" font-size="11.5" style="" fill="#000">+</text>
<rect x="276.90" y="107.60" width="15.8" height="0.6" fill="#000"/>
<text transform="translate(282.09,102.40) scale(1.018,1)" font-size="11.5" style="font-style:italic;" fill="#000">β</text>
<text transform="translate(276.92,118.30) scale(0.977,1)" font-size="11.5" style="" fill="#000">6</text>
<text transform="translate(283.00,118.30) scale(1.134,1)" font-size="11.5" style="font-style:italic;" fill="#000">N</text>
<path d="M303.30 99.40 L316.37 99.40 L317.82 103.18 L317.36 103.18 L315.46 100.61 L312.72 100.12 L306.19 100.12 L311.74 107.45 L305.12 114.29 L312.72 114.29 L315.76 113.73 L317.36 111.39 L317.82 111.39 L316.37 115.50 L303.30 115.50 L303.30 115.10 L309.99 108.01 L303.30 99.88Z" fill="#000"/>
<text transform="translate(304.94,96.40) scale(0.999,1)" font-size="8.4" style="" fill="#000">4</text>
<text transform="translate(309.77,96.40) scale(1.173,1)" font-size="8.4" style="font-style:italic;" fill="#000">N</text>
<text transform="translate(295.99,124.60) scale(1.303,1)" font-size="8.4" style="font-style:italic;" fill="#000">i</text>
<text transform="translate(299.08,124.60) scale(1.484,1)" font-size="8.4" style="" fill="#000">=</text>
<text transform="translate(306.57,124.60) scale(1.189,1)" font-size="8.4" style="font-style:italic;" fill="#000">N</text>
<text transform="translate(313.67,124.60) scale(1.509,1)" font-size="8.4" style="" fill="#000">+</text>
<text transform="translate(320.63,124.60) scale(1.184,1)" font-size="8.4" style="" fill="#000">1</text>
<path d="M334.30 94.10 C330.10 100.10 329.50 102.90 329.50 107.90 C329.50 112.90 330.10 115.70 334.30 121.70 L334.65 121.35 C331.65 115.20 330.75 112.90 330.75 107.90 C330.75 102.90 331.65 100.60 334.65 94.45Z" fill="#000"/>
<path d="M343.40 94.10 C347.60 100.10 348.20 102.90 348.20 107.90 C348.20 112.90 347.60 115.70 343.40 121.70 L343.05 121.35 C346.05 115.20 346.95 112.90 346.95 107.90 C346.95 102.90 346.05 100.60 343.05 94.45Z" fill="#000"/>
<text transform="translate(336.75,103.40) scale(1.405,1)" font-size="11.5" style="font-style:italic;" fill="#000">i</text>
<text transform="translate(336.37,118.80) scale(1.154,1)" font-size="11.5" style="font-style:italic;" fill="#000">k</text>
<text transform="translate(350.90,111.10) scale(0.982,1)" font-size="11.5" style="" fill="#000">(</text>
<text transform="translate(354.78,111.10) scale(1.013,1)" font-size="11.5" style="" fill="#000">1</text>
<text transform="translate(363.27,111.10) scale(1.271,1)" font-size="11.5" style="" fill="#000">−</text>
<text transform="translate(374.04,111.10) scale(1.031,1)" font-size="11.5" style="font-style:italic;" fill="#000">v</text>
<text transform="translate(379.91,111.10) scale(1.050,1)" font-size="11.5" style="" fill="#000">)</text>
<text transform="translate(384.33,106.60) scale(1.427,1)" font-size="8.4" style="font-style:italic;" fill="#000">i</text>
<text transform="translate(387.58,106.60) scale(1.484,1)" font-size="8.4" style="" fill="#000">−</text>
<text transform="translate(394.70,106.60) scale(1.247,1)" font-size="8.4" style="font-style:italic;" fill="#000">k</text>
<path d="M231.10 239.50 C226.90 245.50 226.30 248.30 226.30 253.30 C226.30 258.30 226.90 261.10 231.10 267.10 L231.45 266.75 C228.45 260.60 227.55 258.30 227.55 253.30 C227.55 248.30 228.45 246.00 231.45 239.85Z" fill="#000"/>
<path d="M243.70 239.50 C247.90 245.50 248.50 248.30 248.50 253.30 C248.50 258.30 247.90 261.10 243.70 267.10 L243.35 266.75 C246.35 260.60 247.25 258.30 247.25 253.30 C247.25 248.30 246.35 246.00 243.35 239.85Z" fill="#000"/>
<text transform="translate(233.29,248.80) scale(1.062,1)" font-size="11.5" style="font-style:italic;" fill="#000">N</text>
<text transform="translate(234.82,264.20) scale(1.154,1)" font-size="11.5" style="font-style:italic;" fill="#000">k</text>
<text transform="translate(251.30,256.50) scale(0.982,1)" font-size="11.5" style="" fill="#000">(</text>
<text transform="translate(255.28,256.50) scale(1.013,1)" font-size="11.5" style="" fill="#000">1</text>
<text transform="translate(264.23,256.50) scale(1.177,1)" font-size="11.5" style="" fill="#000">−</text>
<text transform="translate(274.94,256.50) scale(1.031,1)" font-size="11.5" style="font-style:italic;" fill="#000">v</text>
<text transform="translate(281.11,256.50) scale(1.050,1)" font-size="11.5" style="" fill="#000">)</text>
<text transform="translate(286.08,252.00) scale(1.272,1)" font-size="8.4" style="font-style:italic;" fill="#000">N</text>
<text transform="translate(293.69,252.00) scale(1.458,1)" font-size="8.4" style="" fill="#000">−</text>
<text transform="translate(300.52,252.00) scale(1.164,1)" font-size="8.4" style="font-style:italic;" fill="#000">k</text>
<rect x="10.80" y="322.40" width="15.8" height="0.6" fill="#000"/>
<text transform="translate(15.99,317.20) scale(1.018,1)" font-size="11.5" style="font-style:italic;" fill="#000">β</text>
<text transform="translate(10.77,333.10) scale(1.041,1)" font-size="11.5" style="" fill="#000">2</text>
<text transform="translate(16.90,333.10) scale(1.134,1)" font-size="11.5" style="font-style:italic;" fill="#000">N</text>
<path d="M32.30 314.20 L45.37 314.20 L46.82 317.98 L46.36 317.98 L44.46 315.41 L41.72 314.92 L35.19 314.92 L40.74 322.25 L34.12 329.09 L41.72 329.09 L44.76 328.53 L46.36 326.19 L46.82 326.19 L45.37 330.30 L32.30 330.30 L32.30 329.90 L38.99 322.81 L32.30 314.68Z" fill="#000"/>
<text transform="translate(31.17,311.30) scale(1.189,1)" font-size="8.4" style="font-style:italic;" fill="#000">N</text>
<text transform="translate(38.41,311.30) scale(1.407,1)" font-size="8.4" style="" fill="#000">−</text>
<text transform="translate(44.78,311.30) scale(0.981,1)" font-size="8.4" style="" fill="#000">1</text>
<text transform="translate(32.19,339.40) scale(1.303,1)" font-size="8.4" style="font-style:italic;" fill="#000">i</text>
<text transform="translate(35.28,339.40) scale(1.484,1)" font-size="8.4" style="" fill="#000">=</text>
<text transform="translate(42.51,339.40) scale(1.191,1)" font-size="8.4" style="font-style:italic;" fill="#000">k</text>
<path d="M58.60 308.90 C54.40 314.90 53.80 317.70 53.80 322.70 C53.80 327.70 54.40 330.50 58.60 336.50 L58.95 336.15 C55.95 330.00 55.05 327.70 55.05 322.70 C55.05 317.70 55.95 315.40 58.95 309.25Z" fill="#000"/>
<path d="M67.70 308.90 C71.90 314.90 72.50 317.70 72.50 322.70 C72.50 327.70 71.90 330.50 67.70 336.50 L67.35 336.15 C70.35 330.00 71.25 327.70 71.25 322.70 C71.25 317.70 70.35 315.40 67.35 309.25Z" fill="#000"/>
<text transform="translate(61.05,318.20) scale(1.405,1)" font-size="11.5" style="font-style:italic;" fill="#000">i</text>
<text transform="translate(60.67,333.60) scale(1.154,1)" font-size="11.5" style="font-style:italic;" fill="#000">k</text>
<text transform="translate(75.20,325.90) scale(0.982,1)" font-size="11.5" style="" fill="#000">(</text>
<text transform="translate(79.08,325.90) scale(1.013,1)" font-size="11.5" style="" fill="#000">1</text>
<text transform="translate(87.57,325.90) scale(1.271,1)" font-size="11.5" style="" fill="#000">−</text>
<text transform="translate(98.34,325.90) scale(1.031,1)" font-size="11.5" style="font-style:italic;" fill="#000">v</text>
<text transform="translate(104.21,325.90) scale(1.050,1)" font-size="11.5" style="" fill="#000">)</text>
<text transform="translate(108.63,321.40) scale(1.427,1)" font-size="8.4" style="font-style:italic;" fill="#000">i</text>
<text transform="translate(111.88,321.40) scale(1.484,1)" font-size="8.4" style="" fill="#000">−</text>
<text transform="translate(119.00,321.40) scale(1.247,1)" font-size="8.4" style="font-style:italic;" fill="#000">k</text>
<text transform="translate(166.41,402.60) scale(0.837,1)" font-size="11.5" style="font-style:italic;" fill="#000">ϵ</text>
<rect x="166.5" y="404.1" width="4.6" height="0.6" fill="#000"/>
<text transform="translate(171.50,402.60) scale(0.982,1)" font-size="11.5" style="" fill="#000">(</text>
<text transform="translate(175.41,402.60) scale(1.174,1)" font-size="11.5" style="font-style:italic;" fill="#000">k</text>
<text transform="translate(181.94,402.60) scale(0.982,1)" font-size="11.5" style="" fill="#000">)</text>
<text transform="translate(329.51,402.60) scale(0.837,1)" font-size="11.5" style="font-style:italic;" fill="#000">ϵ</text>
<rect x="329.3" y="396.3" width="5.0" height="0.6" fill="#000"/>
<text transform="translate(334.50,402.60) scale(0.982,1)" font-size="11.5" style="" fill="#000">(</text>
<text transform="translate(338.41,402.60) scale(1.174,1)" font-size="11.5" style="font-style:italic;" fill="#000">k</text>
<text transform="translate(344.94,402.60) scale(0.982,1)" font-size="11.5" style="" fill="#000">)</text>
<text transform="translate(734.20,406.10) scale(0.988,1)" font-size="11.5" style="" fill="#000">1</text>
</svg></body></html>
